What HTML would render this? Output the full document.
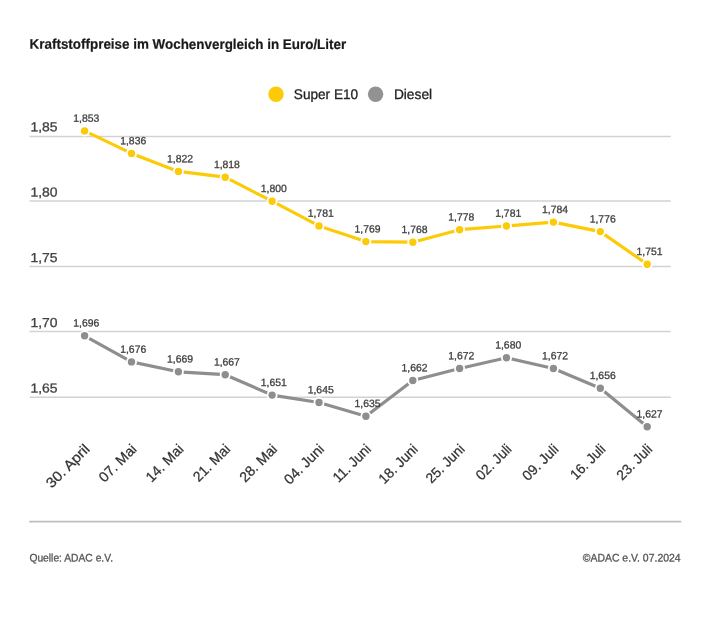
<!DOCTYPE html>
<html lang="de"><head><meta charset="utf-8"><title>Kraftstoffpreise im Wochenvergleich</title>
<style>
html,body{margin:0;padding:0;background:#fff;}
body{width:710px;height:623px;overflow:hidden;}
svg{display:block;font-family:"Liberation Sans",sans-serif;}
.t{font-weight:bold;font-size:14px;fill:#1a1a1a;stroke:#1a1a1a;stroke-width:0.2px;}
.yl{font-size:13px;fill:#444;stroke:#444;stroke-width:0.3px;}
.dl{font-size:10.5px;fill:#414141;stroke:#414141;stroke-width:0.3px;}
.xl{font-size:14.2px;fill:#333;stroke:#333;stroke-width:0.25px;}
.lg{font-size:14px;fill:#222;stroke:#222;stroke-width:0.3px;}
.ft{font-size:11px;fill:#555;stroke:#555;stroke-width:0.3px;}
</style></head><body>
<svg width="710" height="623" viewBox="0 0 710 623">
<rect width="710" height="623" fill="#ffffff"/>
<text class="t" x="29.6" y="48.8" transform="rotate(0.03 29.6 48.8)" textLength="316.6" lengthAdjust="spacingAndGlyphs">Kraftstoffpreise im Wochenvergleich in Euro/Liter</text>
<circle cx="276" cy="94.2" r="7.7" fill="#fdca08"/>
<text class="lg" x="293.8" y="99.0" transform="rotate(0.03 293.8 99.0)" textLength="64.4" lengthAdjust="spacingAndGlyphs">Super E10</text>
<circle cx="375.6" cy="94.2" r="7.7" fill="#929292"/>
<text class="lg" x="393.9" y="99.0" transform="rotate(0.03 393.9 99.0)" textLength="38.2" lengthAdjust="spacingAndGlyphs">Diesel</text>

<line x1="29.6" x2="670.7" y1="136.4" y2="136.4" stroke="#d2d2d2" stroke-width="1.5"/>
<text class="yl" x="30.4" y="131.3" transform="rotate(0.03 30.4 131.3)" textLength="27.2" lengthAdjust="spacingAndGlyphs">1,85</text>
<line x1="29.6" x2="670.7" y1="201.0" y2="201.0" stroke="#d2d2d2" stroke-width="1.5"/>
<text class="yl" x="30.4" y="196.6" transform="rotate(0.03 30.4 196.6)" textLength="27.2" lengthAdjust="spacingAndGlyphs">1,80</text>
<line x1="29.6" x2="670.7" y1="266.6" y2="266.6" stroke="#d2d2d2" stroke-width="1.5"/>
<text class="yl" x="30.4" y="262.0" transform="rotate(0.03 30.4 262.0)" textLength="27.2" lengthAdjust="spacingAndGlyphs">1,75</text>
<line x1="29.6" x2="670.7" y1="331.6" y2="331.6" stroke="#d2d2d2" stroke-width="1.5"/>
<text class="yl" x="30.4" y="326.9" transform="rotate(0.03 30.4 326.9)" textLength="27.2" lengthAdjust="spacingAndGlyphs">1,70</text>
<line x1="29.6" x2="670.7" y1="397.2" y2="397.2" stroke="#d2d2d2" stroke-width="1.5"/>
<text class="yl" x="30.4" y="392.6" transform="rotate(0.03 30.4 392.6)" textLength="27.2" lengthAdjust="spacingAndGlyphs">1,65</text>
<line x1="29.2" x2="681.2" y1="521.6" y2="521.6" stroke="#bdbdbd" stroke-width="1.8"/>
<polyline points="84.6,130.9 131.5,153.4 178.4,171.4 225.2,177.2 272.1,201.2 319.0,225.9 365.9,241.6 412.8,242.2 459.6,229.7 506.5,226.0 553.4,222.1 600.3,231.6 647.2,264.3" fill="none" stroke="#fdca08" stroke-width="3.2" stroke-linejoin="round" stroke-linecap="round"/>
<circle cx="84.6" cy="130.9" r="4.6" fill="#fdca08" stroke="#ffffff" stroke-width="1.8"/>
<circle cx="131.5" cy="153.4" r="4.6" fill="#fdca08" stroke="#ffffff" stroke-width="1.8"/>
<circle cx="178.4" cy="171.4" r="4.6" fill="#fdca08" stroke="#ffffff" stroke-width="1.8"/>
<circle cx="225.2" cy="177.2" r="4.6" fill="#fdca08" stroke="#ffffff" stroke-width="1.8"/>
<circle cx="272.1" cy="201.2" r="4.6" fill="#fdca08" stroke="#ffffff" stroke-width="1.8"/>
<circle cx="319.0" cy="225.9" r="4.6" fill="#fdca08" stroke="#ffffff" stroke-width="1.8"/>
<circle cx="365.9" cy="241.6" r="4.6" fill="#fdca08" stroke="#ffffff" stroke-width="1.8"/>
<circle cx="412.8" cy="242.2" r="4.6" fill="#fdca08" stroke="#ffffff" stroke-width="1.8"/>
<circle cx="459.6" cy="229.7" r="4.6" fill="#fdca08" stroke="#ffffff" stroke-width="1.8"/>
<circle cx="506.5" cy="226.0" r="4.6" fill="#fdca08" stroke="#ffffff" stroke-width="1.8"/>
<circle cx="553.4" cy="222.1" r="4.6" fill="#fdca08" stroke="#ffffff" stroke-width="1.8"/>
<circle cx="600.3" cy="231.6" r="4.6" fill="#fdca08" stroke="#ffffff" stroke-width="1.8"/>
<circle cx="647.2" cy="264.3" r="4.6" fill="#fdca08" stroke="#ffffff" stroke-width="1.8"/>
<text class="dl" x="86.3" y="121.7" transform="rotate(0.03 86.3 121.7)" text-anchor="middle" textLength="26" lengthAdjust="spacingAndGlyphs">1,853</text>
<text class="dl" x="133.2" y="144.2" transform="rotate(0.03 133.2 144.2)" text-anchor="middle" textLength="26" lengthAdjust="spacingAndGlyphs">1,836</text>
<text class="dl" x="180.1" y="162.2" transform="rotate(0.03 180.1 162.2)" text-anchor="middle" textLength="26" lengthAdjust="spacingAndGlyphs">1,822</text>
<text class="dl" x="226.9" y="168.0" transform="rotate(0.03 226.9 168.0)" text-anchor="middle" textLength="26" lengthAdjust="spacingAndGlyphs">1,818</text>
<text class="dl" x="273.8" y="192.0" transform="rotate(0.03 273.8 192.0)" text-anchor="middle" textLength="26" lengthAdjust="spacingAndGlyphs">1,800</text>
<text class="dl" x="320.7" y="216.7" transform="rotate(0.03 320.7 216.7)" text-anchor="middle" textLength="26" lengthAdjust="spacingAndGlyphs">1,781</text>
<text class="dl" x="367.6" y="232.4" transform="rotate(0.03 367.6 232.4)" text-anchor="middle" textLength="26" lengthAdjust="spacingAndGlyphs">1,769</text>
<text class="dl" x="414.5" y="233.0" transform="rotate(0.03 414.5 233.0)" text-anchor="middle" textLength="26" lengthAdjust="spacingAndGlyphs">1,768</text>
<text class="dl" x="461.3" y="220.5" transform="rotate(0.03 461.3 220.5)" text-anchor="middle" textLength="26" lengthAdjust="spacingAndGlyphs">1,778</text>
<text class="dl" x="508.2" y="216.8" transform="rotate(0.03 508.2 216.8)" text-anchor="middle" textLength="26" lengthAdjust="spacingAndGlyphs">1,781</text>
<text class="dl" x="555.1" y="212.9" transform="rotate(0.03 555.1 212.9)" text-anchor="middle" textLength="26" lengthAdjust="spacingAndGlyphs">1,784</text>
<text class="dl" x="602.7" y="222.4" transform="rotate(0.03 602.7 222.4)" text-anchor="middle" textLength="26" lengthAdjust="spacingAndGlyphs">1,776</text>
<text class="dl" x="649.6" y="255.1" transform="rotate(0.03 649.6 255.1)" text-anchor="middle" textLength="26" lengthAdjust="spacingAndGlyphs">1,751</text>
<polyline points="84.6,335.8 131.5,361.9 178.4,371.8 225.2,374.7 272.1,395.1 319.0,402.5 365.9,416.3 412.8,380.5 459.6,368.5 506.5,357.8 553.4,368.5 600.3,388.3 647.2,426.8" fill="none" stroke="#8e8e8e" stroke-width="3.2" stroke-linejoin="round" stroke-linecap="round"/>
<circle cx="84.6" cy="335.8" r="4.6" fill="#8e8e8e" stroke="#ffffff" stroke-width="1.8"/>
<circle cx="131.5" cy="361.9" r="4.6" fill="#8e8e8e" stroke="#ffffff" stroke-width="1.8"/>
<circle cx="178.4" cy="371.8" r="4.6" fill="#8e8e8e" stroke="#ffffff" stroke-width="1.8"/>
<circle cx="225.2" cy="374.7" r="4.6" fill="#8e8e8e" stroke="#ffffff" stroke-width="1.8"/>
<circle cx="272.1" cy="395.1" r="4.6" fill="#8e8e8e" stroke="#ffffff" stroke-width="1.8"/>
<circle cx="319.0" cy="402.5" r="4.6" fill="#8e8e8e" stroke="#ffffff" stroke-width="1.8"/>
<circle cx="365.9" cy="416.3" r="4.6" fill="#8e8e8e" stroke="#ffffff" stroke-width="1.8"/>
<circle cx="412.8" cy="380.5" r="4.6" fill="#8e8e8e" stroke="#ffffff" stroke-width="1.8"/>
<circle cx="459.6" cy="368.5" r="4.6" fill="#8e8e8e" stroke="#ffffff" stroke-width="1.8"/>
<circle cx="506.5" cy="357.8" r="4.6" fill="#8e8e8e" stroke="#ffffff" stroke-width="1.8"/>
<circle cx="553.4" cy="368.5" r="4.6" fill="#8e8e8e" stroke="#ffffff" stroke-width="1.8"/>
<circle cx="600.3" cy="388.3" r="4.6" fill="#8e8e8e" stroke="#ffffff" stroke-width="1.8"/>
<circle cx="647.2" cy="426.8" r="4.6" fill="#8e8e8e" stroke="#ffffff" stroke-width="1.8"/>
<text class="dl" x="86.3" y="326.6" transform="rotate(0.03 86.3 326.6)" text-anchor="middle" textLength="26" lengthAdjust="spacingAndGlyphs">1,696</text>
<text class="dl" x="133.2" y="352.7" transform="rotate(0.03 133.2 352.7)" text-anchor="middle" textLength="26" lengthAdjust="spacingAndGlyphs">1,676</text>
<text class="dl" x="180.1" y="362.6" transform="rotate(0.03 180.1 362.6)" text-anchor="middle" textLength="26" lengthAdjust="spacingAndGlyphs">1,669</text>
<text class="dl" x="226.9" y="365.5" transform="rotate(0.03 226.9 365.5)" text-anchor="middle" textLength="26" lengthAdjust="spacingAndGlyphs">1,667</text>
<text class="dl" x="273.8" y="385.9" transform="rotate(0.03 273.8 385.9)" text-anchor="middle" textLength="26" lengthAdjust="spacingAndGlyphs">1,651</text>
<text class="dl" x="320.7" y="393.3" transform="rotate(0.03 320.7 393.3)" text-anchor="middle" textLength="26" lengthAdjust="spacingAndGlyphs">1,645</text>
<text class="dl" x="367.6" y="407.1" transform="rotate(0.03 367.6 407.1)" text-anchor="middle" textLength="26" lengthAdjust="spacingAndGlyphs">1,635</text>
<text class="dl" x="414.5" y="371.3" transform="rotate(0.03 414.5 371.3)" text-anchor="middle" textLength="26" lengthAdjust="spacingAndGlyphs">1,662</text>
<text class="dl" x="461.3" y="359.3" transform="rotate(0.03 461.3 359.3)" text-anchor="middle" textLength="26" lengthAdjust="spacingAndGlyphs">1,672</text>
<text class="dl" x="508.2" y="348.6" transform="rotate(0.03 508.2 348.6)" text-anchor="middle" textLength="26" lengthAdjust="spacingAndGlyphs">1,680</text>
<text class="dl" x="555.1" y="359.3" transform="rotate(0.03 555.1 359.3)" text-anchor="middle" textLength="26" lengthAdjust="spacingAndGlyphs">1,672</text>
<text class="dl" x="602.7" y="379.1" transform="rotate(0.03 602.7 379.1)" text-anchor="middle" textLength="26" lengthAdjust="spacingAndGlyphs">1,656</text>
<text class="dl" x="649.6" y="417.6" transform="rotate(0.03 649.6 417.6)" text-anchor="middle" textLength="26" lengthAdjust="spacingAndGlyphs">1,627</text>
<text class="xl" text-anchor="end" textLength="54.8" lengthAdjust="spacingAndGlyphs" transform="translate(90.6,450) rotate(-45)">30. April</text>
<text class="xl" text-anchor="end" textLength="46.6" lengthAdjust="spacingAndGlyphs" transform="translate(137.5,450) rotate(-45)">07. Mai</text>
<text class="xl" text-anchor="end" textLength="46.6" lengthAdjust="spacingAndGlyphs" transform="translate(184.4,450) rotate(-45)">14. Mai</text>
<text class="xl" text-anchor="end" textLength="45.8" lengthAdjust="spacingAndGlyphs" transform="translate(231.2,450) rotate(-45)">21. Mai</text>
<text class="xl" text-anchor="end" textLength="46.6" lengthAdjust="spacingAndGlyphs" transform="translate(278.1,450) rotate(-45)">28. Mai</text>
<text class="xl" text-anchor="end" textLength="49.7" lengthAdjust="spacingAndGlyphs" transform="translate(325.0,450) rotate(-45)">04. Juni</text>
<text class="xl" text-anchor="end" textLength="47.2" lengthAdjust="spacingAndGlyphs" transform="translate(371.9,450) rotate(-45)">11. Juni</text>
<text class="xl" text-anchor="end" textLength="49.0" lengthAdjust="spacingAndGlyphs" transform="translate(418.8,450) rotate(-45)">18. Juni</text>
<text class="xl" text-anchor="end" textLength="48.2" lengthAdjust="spacingAndGlyphs" transform="translate(465.6,450) rotate(-45)">25. Juni</text>
<text class="xl" text-anchor="end" textLength="43.8" lengthAdjust="spacingAndGlyphs" transform="translate(512.5,450) rotate(-45)">02. Juli</text>
<text class="xl" text-anchor="end" textLength="44.5" lengthAdjust="spacingAndGlyphs" transform="translate(559.4,450) rotate(-45)">09. Juli</text>
<text class="xl" text-anchor="end" textLength="43.0" lengthAdjust="spacingAndGlyphs" transform="translate(606.3,450) rotate(-45)">16. Juli</text>
<text class="xl" text-anchor="end" textLength="43.8" lengthAdjust="spacingAndGlyphs" transform="translate(653.2,450) rotate(-45)">23. Juli</text>
<text class="ft" x="29.4" y="561.5" transform="rotate(0.03 29.4 561.5)" textLength="83.6" lengthAdjust="spacingAndGlyphs">Quelle: ADAC e.V.</text>
<text class="ft" x="582.8" y="561.5" transform="rotate(0.03 582.8 561.5)" textLength="97.8" lengthAdjust="spacingAndGlyphs">©ADAC e.V. 07.2024</text>
</svg></body></html>
